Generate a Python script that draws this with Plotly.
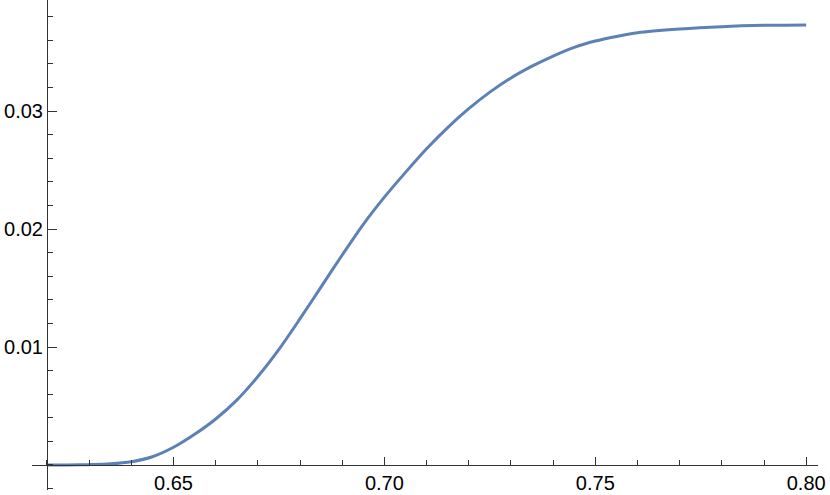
import plotly.graph_objects as go

# curve values
x_vals = [0.62, 0.625, 0.63, 0.635, 0.64, 0.645, 0.65, 0.655, 0.66, 0.665, 0.67, 0.675,
          0.68, 0.685, 0.69, 0.695, 0.70, 0.705, 0.71, 0.715, 0.72, 0.725, 0.73, 0.735,
          0.74, 0.745, 0.75, 0.755, 0.76, 0.77, 0.78, 0.79, 0.80]
y_vals = [0.0, 0.0, 0.00003, 0.0001, 0.00028, 0.0007, 0.0015, 0.0026, 0.0039, 0.0055,
          0.0075, 0.0098, 0.0124, 0.0151, 0.0178, 0.0204, 0.0227, 0.0248, 0.0268, 0.0286,
          0.0302, 0.0316, 0.0328, 0.0338, 0.03466, 0.0354, 0.03593, 0.03632, 0.03664,
          0.03695, 0.03715, 0.03726, 0.0373]

x_ticks = [0.65, 0.70, 0.75, 0.80]
x_ticktext = ["0.65", "0.70", "0.75", "0.80"]
y_ticks = [0.01, 0.02, 0.03]
y_ticktext = ["0.01", "0.02", "0.03"]

x_origin, y_origin = 0.62, 0.0
x_range = [0.61645, 0.8028]
y_range = [-0.00212, 0.03941]

fig = go.Figure()
fig.add_trace(go.Scatter(
    x=x_vals, y=y_vals, mode='lines',
    line=dict(color='#5E81B5', width=3, shape='spline', smoothing=0.8),
    hoverinfo='skip'
))

axis_color = '#333333'
fig.update_layout(
    width=830, height=495,
    margin=dict(l=32, r=12, t=0, b=5, autoexpand=False),
    paper_bgcolor='white', plot_bgcolor='white',
    showlegend=False,
    font=dict(family='Liberation Sans, Arial, sans-serif', size=20, color='black'),
    xaxis=dict(
        range=x_range, anchor='free', automargin=False,
        position=(y_origin - y_range[0]) / (y_range[1] - y_range[0]),
        showgrid=False, zeroline=False,
        showline=True, linecolor=axis_color, linewidth=1,
        tickmode='array', tickvals=x_ticks, ticktext=x_ticktext,
        ticks='inside', ticklen=8, tickwidth=1, tickcolor=axis_color,
        minor=dict(ticks='inside', ticklen=5, tickwidth=1, tickcolor=axis_color,
                   tick0=0.6, dtick=0.01, showgrid=False),
    ),
    yaxis=dict(
        range=y_range, anchor='free', automargin=False,
        position=(x_origin - x_range[0]) / (x_range[1] - x_range[0]),
        showgrid=False, zeroline=False,
        showline=True, linecolor=axis_color, linewidth=1,
        tickmode='array', tickvals=y_ticks, ticktext=y_ticktext,
        ticks='inside', ticklen=9, tickwidth=1, tickcolor=axis_color,
        minor=dict(ticks='inside', ticklen=5, tickwidth=1, tickcolor=axis_color,
                   tick0=0, dtick=0.002, showgrid=False),
    ),
)

# drop the page's default body margin so the figure fills the window
fig.write_html("out.html", config={'displayModeBar': False},
               post_script="document.body.style.margin='0';")
